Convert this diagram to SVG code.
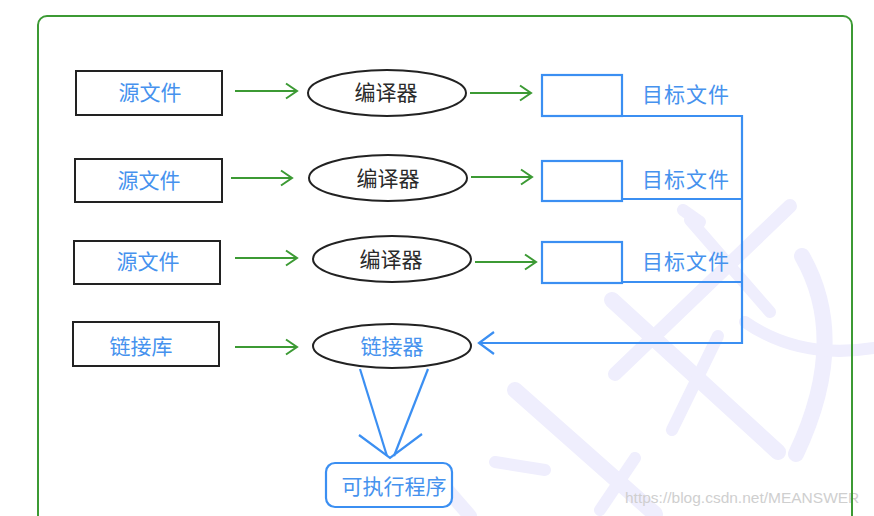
<svg xmlns="http://www.w3.org/2000/svg" width="874" height="516" viewBox="0 0 874 516">
<defs>
<style>
.src{fill:#fff;stroke:#222;stroke-width:2}
.ell{fill:#fff;stroke:#222;stroke-width:2}
.obj{fill:#fff;stroke:#3b8ff2;stroke-width:2.2}
.t{font-family:"Noto Sans CJK SC","Noto Sans",sans-serif;font-size:21px;text-anchor:middle;dominant-baseline:central}
.blue{fill:#4692ee}
.dark{fill:#2a2a2a}
.g{stroke:#3c9a34;stroke-width:2;fill:none}
.b{stroke:#3b8ff2;stroke-width:2.2;fill:none}
.wm{stroke:#efeefd;fill:none;stroke-linecap:round}
</style>
<marker id="ga" viewBox="-13 -10 16 20" markerWidth="16" markerHeight="20" refX="0" refY="0" orient="auto" markerUnits="userSpaceOnUse">
<path d="M-11,-7.5 L0,0 L-11,7.5" fill="none" stroke="#3c9a34" stroke-width="2"/>
</marker>
<marker id="ba" viewBox="-17 -13 19 26" markerWidth="19" markerHeight="26" refX="0" refY="0" orient="auto" markerUnits="userSpaceOnUse">
<path d="M-15,-11 L0,0 L-15,11" fill="none" stroke="#3b8ff2" stroke-width="2.2"/>
</marker>
</defs>
<rect width="874" height="516" fill="#fff"/>
<g id="watermark">
<path class="wm" stroke-width="16" d="M612,300 L778,452"/>
<path class="wm" stroke-width="16" d="M515,390 L655,514"/>
<path class="wm" stroke-width="12" d="M690,220 L770,312"/>
<path class="wm" stroke-width="14" d="M790,206 L615,374"/>
<path class="wm" stroke-width="12" d="M718,336 L672,430"/>
<path class="wm" stroke-width="16" d="M802,256 Q850,340 796,454"/>
<path class="wm" stroke-width="12" d="M745,322 Q800,360 874,348"/>
<path class="wm" stroke-width="12" d="M495,462 L545,470"/>
<path class="wm" stroke-width="14" d="M430,470 L470,516"/>
<path class="wm" stroke-width="12" d="M635,458 L600,510"/>
<path class="wm" stroke-width="12" d="M683,210 L700,222"/>
<text x="625" y="503" font-family="'Liberation Sans',Arial,sans-serif" font-size="15.5" fill="#cfcfcf">https://blog.csdn.net/MEANSWER</text>
</g>
<rect id="frame" x="38" y="16" width="814" height="520" rx="9" fill="none" stroke="#3c9a34" stroke-width="2"/>
<g id="connectors">
<line class="g" x1="235" y1="91" x2="297" y2="91" marker-end="url(#ga)"/>
<line class="g" x1="470" y1="93" x2="531" y2="93" marker-end="url(#ga)"/>
<line class="g" x1="231" y1="178" x2="292" y2="178" marker-end="url(#ga)"/>
<line class="g" x1="471" y1="177" x2="532" y2="177" marker-end="url(#ga)"/>
<line class="g" x1="235" y1="258" x2="297" y2="258" marker-end="url(#ga)"/>
<line class="g" x1="475" y1="262" x2="536" y2="262" marker-end="url(#ga)"/>
<line class="g" x1="235" y1="347" x2="297" y2="347" marker-end="url(#ga)"/>
<polyline class="b" points="622,116 742,116 742,343 479,343" marker-end="url(#ba)"/>
<line class="b" x1="622" y1="199" x2="742" y2="199"/>
<line class="b" x1="622" y1="282" x2="742" y2="282"/>
<line class="b" x1="360" y1="369" x2="387" y2="456"/>
<line class="b" x1="428" y1="369" x2="394" y2="456"/>
<polyline class="b" points="359,435 390,458 422,434"/>
</g>
<g id="src1"><rect class="src" x="76" y="71" width="146" height="44"/><text class="t blue" x="150" y="91">源文件</text></g>
<g id="src2"><rect class="src" x="75" y="159" width="147" height="43"/><text class="t blue" x="149" y="179">源文件</text></g>
<g id="src3"><rect class="src" x="74" y="241" width="146" height="43"/><text class="t blue" x="148" y="260">源文件</text></g>
<g id="lib"><rect class="src" x="73" y="322" width="146" height="44"/><text class="t blue" x="141" y="345">链接库</text></g>
<g id="cc1"><ellipse class="ell" cx="387" cy="93" rx="79" ry="23"/><text class="t dark" x="386" y="91">编译器</text></g>
<g id="cc2"><ellipse class="ell" cx="388" cy="178" rx="79" ry="23"/><text class="t dark" x="388" y="177">编译器</text></g>
<g id="cc3"><ellipse class="ell" cx="392" cy="259" rx="79" ry="23"/><text class="t dark" x="391" y="258">编译器</text></g>
<g id="linker"><ellipse class="ell" cx="392" cy="346" rx="79" ry="22"/><text class="t blue" x="392" y="345">链接器</text></g>
<g id="obj1"><rect class="obj" x="542" y="75" width="80" height="41"/><text class="t blue" x="686" y="93" letter-spacing="1">目标文件</text></g>
<g id="obj2"><rect class="obj" x="542" y="161" width="80" height="40"/><text class="t blue" x="686" y="178" letter-spacing="1">目标文件</text></g>
<g id="obj3"><rect class="obj" x="542" y="242" width="80" height="41"/><text class="t blue" x="686" y="260" letter-spacing="1">目标文件</text></g>
<g id="exe"><rect class="obj" x="326" y="463" width="126" height="44" rx="9"/><text class="t blue" x="394" y="485">可执行程序</text></g>
</svg>
